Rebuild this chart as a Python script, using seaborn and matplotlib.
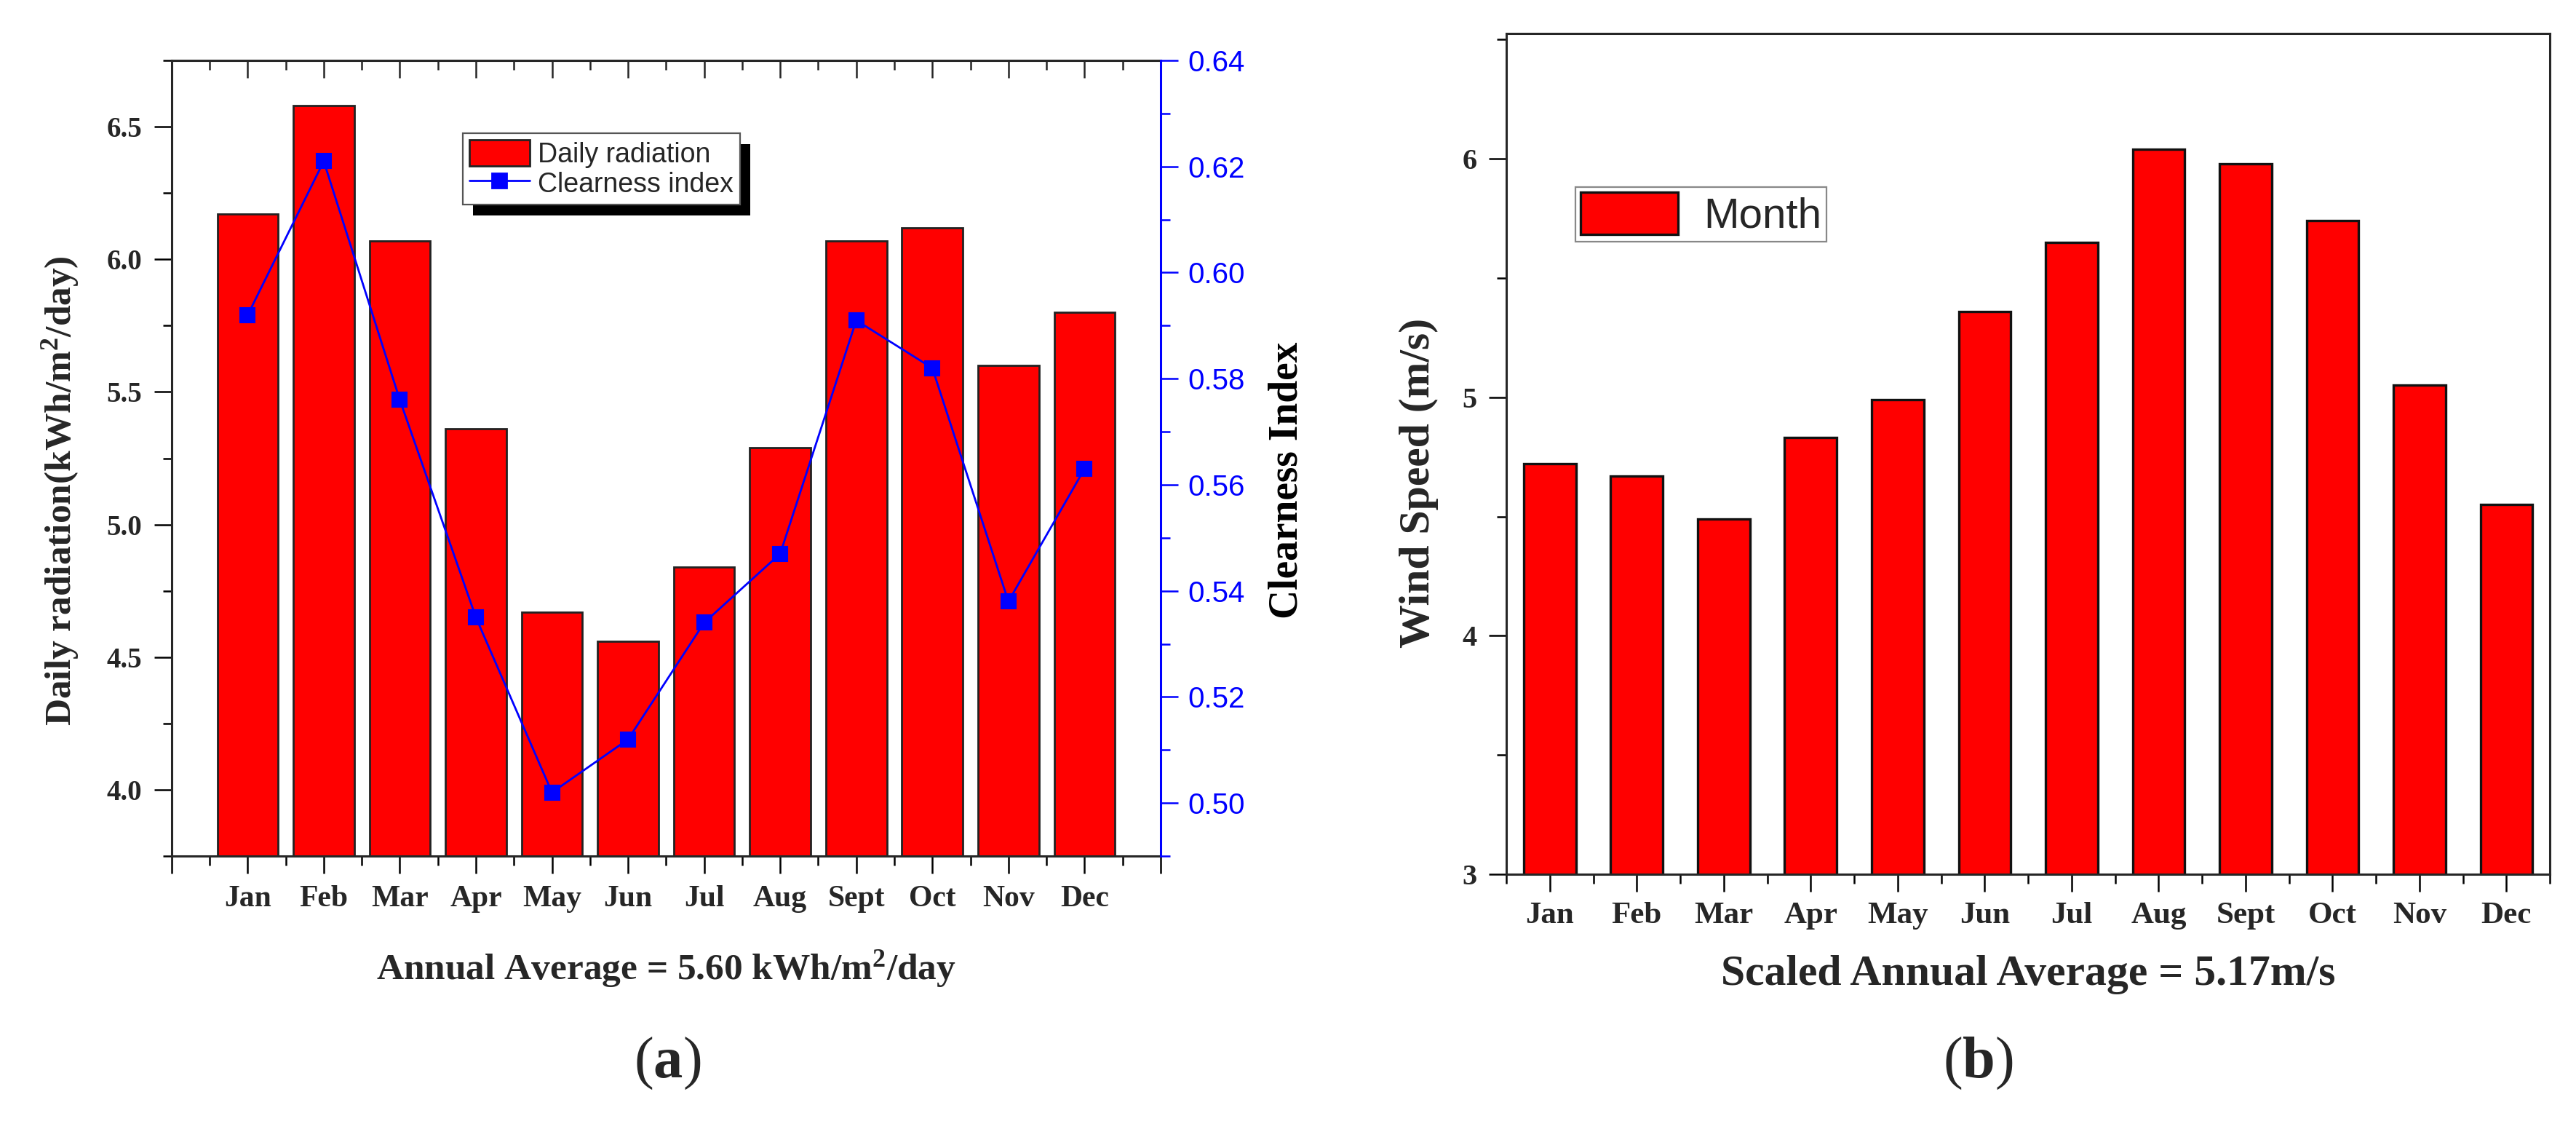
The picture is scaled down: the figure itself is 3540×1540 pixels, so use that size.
import numpy as np
import pandas as pd
import matplotlib
matplotlib.use('Agg')
import matplotlib.pyplot as plt
from matplotlib.ticker import FixedLocator, MultipleLocator, FormatStrFormatter, NullLocator
from matplotlib.patches import Patch, Rectangle
from matplotlib.lines import Line2D
import seaborn as sns

# data
months = ['Jan', 'Feb', 'Mar', 'Apr', 'May', 'Jun', 'Jul', 'Aug', 'Sept', 'Oct', 'Nov', 'Dec']
daily_radiation = [6.17, 6.58, 6.07, 5.36, 4.67, 4.56, 4.84, 5.29, 6.07, 6.12, 5.60, 5.80]
clearness_index = [0.592, 0.621, 0.576, 0.535, 0.502, 0.512, 0.534, 0.547, 0.591, 0.582, 0.538, 0.563]
wind_speed = [4.72, 4.67, 4.49, 4.83, 4.99, 5.36, 5.65, 6.04, 5.98, 5.74, 5.05, 4.55]

sns.set_style('ticks')
plt.rcParams['font.family'] = ['Liberation Serif', 'DejaVu Serif']
plt.rcParams['font.weight'] = 'bold'
plt.rcParams['mathtext.fontset'] = 'custom'
plt.rcParams['mathtext.bf'] = 'Liberation Serif:bold'
plt.rcParams['mathtext.rm'] = 'Liberation Serif'
plt.rcParams['mathtext.default'] = 'regular'
plt.rcParams['axes.linewidth'] = 1.1

RED = '#ff0000'
BLUE = '#0000ff'
SANS = ['Liberation Sans', 'DejaVu Sans']

fig = plt.figure(figsize=(17.705, 7.7), dpi=200)

# ---------------- panel (a) ----------------
df_a = pd.DataFrame({'month': months, 'radiation': daily_radiation, 'clearness': clearness_index})

ax1 = fig.add_axes([0.0666, 0.2363, 0.3838, 0.7098])
sns.barplot(data=df_a, x='month', y='radiation', order=months, color=RED, saturation=1,
            width=0.8, edgecolor='#222222', linewidth=1.0, ax=ax1)

ax2 = ax1.twinx()
sns.lineplot(data=df_a, x='month', y='clearness', sort=False, color=BLUE, linewidth=1.0,
             marker='s', markersize=7.5, markeredgecolor=BLUE, ax=ax2)

ax1.set_xlim(-1, 12)
ax1.set_ylim(3.75, 6.75)
ax2.set_ylim(0.49, 0.64)

ax1.xaxis.set_major_locator(FixedLocator(range(-1, 13)))
ax1.set_xticklabels([''] + months + [''])
ax1.xaxis.set_minor_locator(MultipleLocator(0.5))
ax1.yaxis.set_major_locator(MultipleLocator(0.5))
ax1.yaxis.set_minor_locator(MultipleLocator(0.25))
ax1.yaxis.set_major_formatter(FormatStrFormatter('%.1f'))
ax1.tick_params(axis='both', which='major', direction='out', length=8.5, width=0.9, color='black')
ax1.tick_params(axis='both', which='minor', direction='out', length=4.5, width=0.9, color='black')
ax1.tick_params(axis='x', labelsize=15, pad=6)
ax1.tick_params(axis='y', labelsize=14, pad=6)
ax1.spines['right'].set_visible(False)

# top ticks point inward
top = ax1.secondary_xaxis('top')
top.xaxis.set_major_locator(FixedLocator(range(-1, 13)))
top.xaxis.set_minor_locator(MultipleLocator(0.5))
top.tick_params(axis='x', which='major', direction='in', length=8.5, width=0.9, labeltop=False)
top.tick_params(axis='x', which='minor', direction='in', length=4.5, width=0.9)
top.spines['top'].set_linewidth(1.1)

ax2.yaxis.set_major_locator(MultipleLocator(0.02))
ax2.yaxis.set_minor_locator(MultipleLocator(0.01))
ax2.yaxis.set_major_formatter(FormatStrFormatter('%.2f'))
ax2.tick_params(axis='y', which='major', direction='out', length=8.5, width=0.9, colors=BLUE,
                labelsize=14.5, pad=5)
ax2.tick_params(axis='y', which='minor', direction='out', length=4.5, width=0.9, colors=BLUE)
for lab in ax2.get_yticklabels():
    lab.set_family(SANS)
    lab.set_fontweight('normal')
ax2.spines['right'].set_color(BLUE)
ax2.spines['right'].set_linewidth(1.1)
for s in ['left', 'top', 'bottom']:
    ax2.spines[s].set_visible(False)
ax2.xaxis.set_visible(False)

ax1.set_xlabel('Annual Average = 5.60 kWh/m$^2$/day', fontsize=18.5, fontweight='bold')
ax1.xaxis.set_label_coords(0.5, -0.142)
ax1.xaxis.label.set_va('center')
ax1.set_ylabel('Daily radiation(kWh/m$^2$/day)', fontsize=18.5, fontweight='bold')
ax1.yaxis.set_label_coords(-0.1126, 0.459)
ax1.yaxis.label.set_va('center')
ax2.set_ylabel('Clearness Index', fontsize=20, fontweight='bold', color='black')
ax2.yaxis.set_label_coords(1.128, 0.472)
ax2.yaxis.label.set_va('center')
ax2.yaxis.label.set_rotation(90)

handles_a = [Patch(facecolor=RED, edgecolor='#222222', linewidth=1.0),
             Line2D([], [], color=BLUE, linewidth=1.0, marker='s', markersize=7.5)]
leg_a = ax2.legend(handles_a, ['Daily radiation', 'Clearness index'], loc='upper left',
                   bbox_to_anchor=(0.2943, 0.9085), borderaxespad=0, frameon=True,
                   fancybox=False, framealpha=1, edgecolor='#555555',
                   prop={'family': SANS, 'size': 13.5, 'weight': 'normal'},
                   handlelength=2.2, handleheight=1.1, handletextpad=0.3,
                   labelspacing=0.05, borderpad=0.25)
leg_a.get_frame().set_linewidth(0.8)

# ---------------- panel (b) ----------------
df_b = pd.DataFrame({'month': months, 'wind': wind_speed})
ax3 = fig.add_axes([0.5846, 0.2201, 0.4050, 0.7500])
sns.barplot(data=df_b, x='month', y='wind', order=months, color=RED, saturation=1,
            width=0.6, edgecolor='#111111', linewidth=1.2, ax=ax3)
ax3.set_xlim(-0.5, 11.5)
ax3.set_ylim(3, 6.525)
ax3.xaxis.set_major_locator(FixedLocator(range(12)))
ax3.set_xticklabels(months)
ax3.xaxis.set_minor_locator(MultipleLocator(0.5))
ax3.yaxis.set_major_locator(MultipleLocator(1))
ax3.yaxis.set_minor_locator(MultipleLocator(0.5))
ax3.yaxis.set_major_formatter(FormatStrFormatter('%d'))
ax3.tick_params(axis='both', which='major', direction='out', length=8.5, width=0.9, color='black')
ax3.tick_params(axis='both', which='minor', direction='out', length=4.8, width=0.9, color='black')
ax3.tick_params(axis='x', labelsize=15.5, pad=5)
ax3.tick_params(axis='y', labelsize=14.5, pad=6)
for s in ['top', 'right']:
    ax3.spines[s].set_visible(True)
    ax3.spines[s].set_linewidth(1.1)

ax3.set_xlabel('Scaled Annual Average = 5.17m/s', fontsize=21.5, fontweight='bold')
ax3.xaxis.set_label_coords(0.5, -0.1196)
ax3.xaxis.label.set_va('center')
ax3.set_ylabel('Wind Speed (m/s)', fontsize=21.5, fontweight='bold')
ax3.yaxis.set_label_coords(-0.0837, 0.4655)
ax3.yaxis.label.set_va('center')

leg_b = ax3.legend([Patch(facecolor=RED, edgecolor='#111111', linewidth=1.2)], ['Month'],
                   loc='upper left', bbox_to_anchor=(0.0663, 0.8175), borderaxespad=0,
                   frameon=True, fancybox=False, framealpha=1, edgecolor='#888888',
                   prop={'family': SANS, 'size': 21, 'weight': 'normal'},
                   handlelength=2.3, handleheight=1.15, handletextpad=0.6, borderpad=0.12)
leg_b.get_frame().set_linewidth(0.8)

# panel letters
fig.text(917 / 3541, 1 - 1461 / 1540, '($\\mathbf{a}$)', fontsize=29, fontweight='normal',
         ha='center', va='center')
fig.text(2718 / 3541, 1 - 1461 / 1540, '($\\mathbf{b}$)', fontsize=29, fontweight='normal',
         ha='center', va='center')

# solid black drop shadow behind legend (a)
fig.canvas.draw()
bb = leg_a.get_window_extent()
shadow = Rectangle((bb.x0 + 14, bb.y0 - 15), bb.width, bb.height, transform=None,
                   facecolor='black', edgecolor='none', zorder=leg_a.get_zorder() - 0.1,
                   clip_on=False)
ax2.add_artist(shadow)

fig.savefig('out.png', dpi=200, facecolor='white')
